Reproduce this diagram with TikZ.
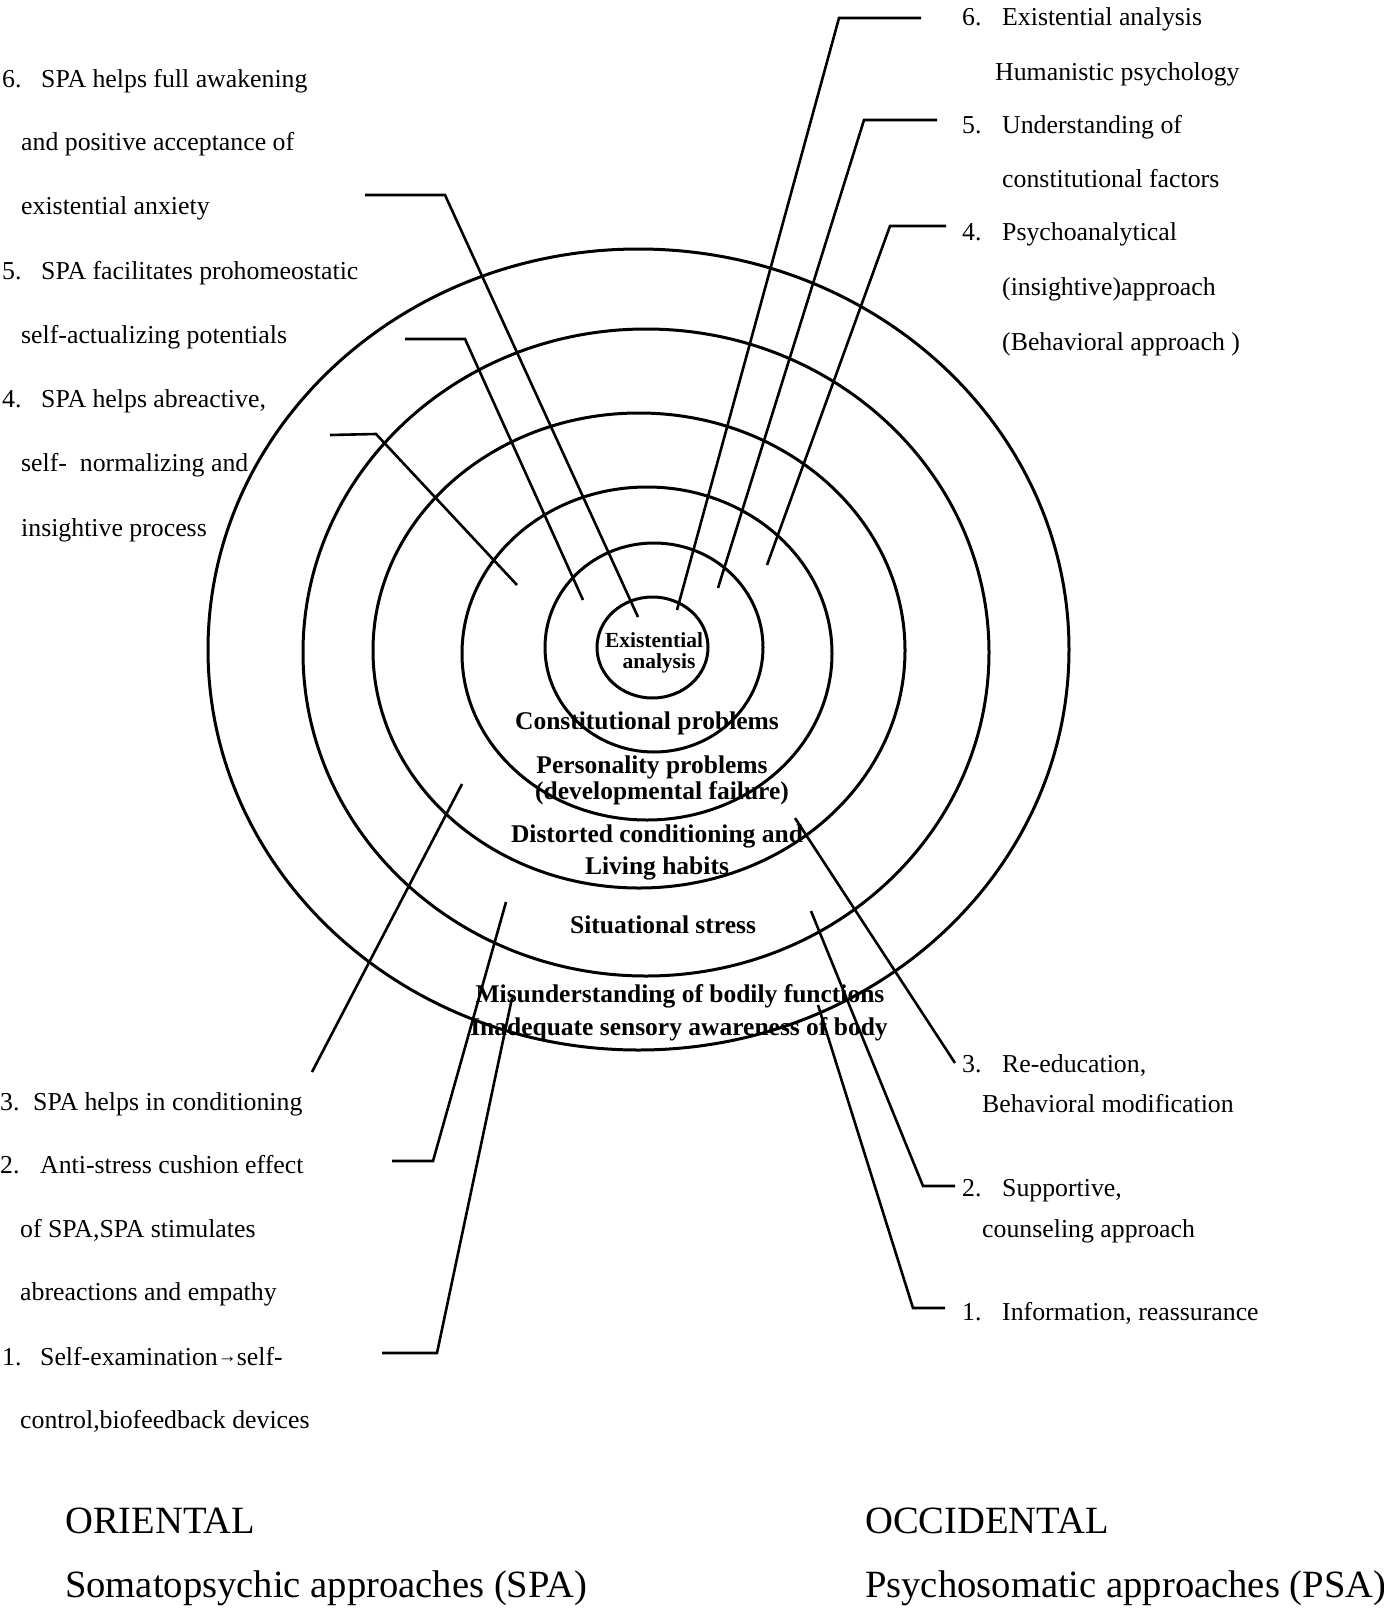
\documentclass[tikz,border=0pt]{standalone}
\usepackage{fontspec}
\setmainfont{Liberation Serif}
\begin{document}
\begin{tikzpicture}[x=1pt,y=-1pt,
  ring/.style={line width=3pt},
  leader/.style={line width=2.6pt},
  lbl/.style={inner sep=0pt,anchor=base west,font=\fontsize{25.8}{30}\selectfont},
  rlbl/.style={inner sep=0pt,anchor=base,font=\bfseries\fontsize{25.5}{30}\selectfont},
  slbl/.style={inner sep=0pt,anchor=base,font=\bfseries\fontsize{21.5}{26}\selectfont},
  ttl/.style={inner sep=0pt,anchor=base west,font=\fontsize{38.6}{44}\selectfont}]
\useasboundingbox (0,0) rectangle (1384,1609);

% concentric rings
\draw[ring] (638.5,649.5) ellipse [x radius=430.5pt, y radius=400.5pt];
\draw[ring] (646,652.5) ellipse [x radius=343pt, y radius=323.5pt];
\draw[ring] (639,650.5) ellipse [x radius=266pt, y radius=237.5pt];
\draw[ring] (647,653.5) ellipse [x radius=185pt, y radius=166.5pt];
\draw[ring] (654,647.5) ellipse [x radius=109pt, y radius=104.5pt];
\draw[ring] (652.5,647.5) ellipse [x radius=55.5pt, y radius=50.5pt];

% ring labels
\node[slbl] (ex1) at (654,647) {Existential};
\node[slbl] (ex2) at (659,668) {analysis};
\node[rlbl] (con) at (647,729) {Constitutional problems};
\node[rlbl] (per1) at (652,773) {Personality problems};
\node[rlbl] (per2) at (662,799) {(developmental failure)};
\node[rlbl] (dis1) at (657,842) {Distorted conditioning and};
\node[rlbl] (dis2) at (657,874) {Living habits};
\node[rlbl] (sit) at (663,933) {Situational stress};
\node[rlbl] (mis1) at (680,1002) {Misunderstanding of bodily functions};
\node[rlbl] (mis2) at (679,1035) {Inadequate sensory awareness of body};

% left (oriental) labels
\node[lbl] (a6a) at (2,87.5) {\makebox[39pt][l]{6.}SPA helps full awakening};
\node[lbl] (a6b) at (21,150) {and positive acceptance of};
\node[lbl] (a6c) at (21,214) {existential anxiety};
\node[lbl] (a5a) at (2,279) {\makebox[39pt][l]{5.}SPA facilitates prohomeostatic};
\node[lbl] (a5b) at (21,343) {self-actualizing potentials};
\node[lbl] (a4a) at (2,407) {\makebox[39pt][l]{4.}SPA helps abreactive,};
\node[lbl] (a4b) at (21,471) {self-\ \ normalizing and};
\node[lbl] (a4c) at (21,536) {insightive process};
\node[lbl] (a3a) at (0,1110) {\makebox[33pt][l]{3.}SPA helps in conditioning};
\node[lbl] (a2a) at (0,1173) {\makebox[40pt][l]{2.}Anti-stress cushion effect};
\node[lbl] (a2b) at (20,1237) {of SPA,SPA stimulates};
\node[lbl] (a2c) at (20,1300) {abreactions and empathy};
\node[lbl] (a1a) at (2,1365) {\makebox[38pt][l]{1.}Self-examination\raisebox{0.25ex}{\fontsize{19}{19}\selectfont→}self-};
\node[lbl] (a1b) at (20,1428) {control,biofeedback devices};

% right (occidental) labels
\node[lbl] (b6a) at (962,25) {\makebox[40pt][l]{6.}Existential analysis};
\node[lbl] (b6b) at (995,80) {Humanistic psychology};
\node[lbl] (b5a) at (962,133) {\makebox[40pt][l]{5.}Understanding of};
\node[lbl] (b5b) at (1002,187) {constitutional factors};
\node[lbl] (b4a) at (962,240) {\makebox[40pt][l]{4.}Psychoanalytical};
\node[lbl] (b4b) at (1002,295) {(insightive)approach};
\node[lbl] (b4c) at (1002,350) {(Behavioral approach )};
\node[lbl] (b3a) at (962,1072) {\makebox[40pt][l]{3.}Re-education,};
\node[lbl] (b3b) at (982,1112) {Behavioral modification};
\node[lbl] (b2a) at (962,1196) {\makebox[40pt][l]{2.}Supportive,};
\node[lbl] (b2b) at (982,1237) {counseling approach};
\node[lbl] (b1a) at (962,1320) {\makebox[40pt][l]{1.}Information, reassurance};

% titles
\node[ttl] (t1) at (65,1533) {ORIENTAL};
\node[ttl] (t2) at (65,1597) {Somatopsychic approaches (SPA)};
\node[ttl] (t3) at (865,1533) {OCCIDENTAL};
\node[ttl] (t4) at (865,1597) {Psychosomatic approaches (PSA)};

% leader line points
\coordinate (l6s) at (365,195);  \coordinate (l6k) at (445,195);  \coordinate (l6e) at (638,617);
\coordinate (l5s) at (405,339);  \coordinate (l5k) at (465,339);  \coordinate (l5e) at (583,600);
\coordinate (l4s) at (330,435);  \coordinate (l4k) at (376,434);  \coordinate (l4e) at (517,585);
\coordinate (l3s) at (312,1072); \coordinate (l3e) at (462,784);
\coordinate (l2s) at (392,1161); \coordinate (l2k) at (433,1161); \coordinate (l2e) at (506,902);
\coordinate (l1s) at (382,1353); \coordinate (l1k) at (437,1353); \coordinate (l1e) at (512,998);
\coordinate (r6s) at (921,18);   \coordinate (r6k) at (839,18);   \coordinate (r6e) at (677,610);
\coordinate (r5s) at (937,120);  \coordinate (r5k) at (864,120);  \coordinate (r5e) at (718,588);
\coordinate (r4s) at (946,226);  \coordinate (r4k) at (890,226);  \coordinate (r4e) at (767,565);
\coordinate (r3s) at (955,1063); \coordinate (r3e) at (795,818);
\coordinate (r2s) at (955,1186); \coordinate (r2k) at (923,1186); \coordinate (r2e) at (811,911);
\coordinate (r1s) at (945,1308); \coordinate (r1k) at (913,1308); \coordinate (r1e) at (818,1005);

\draw[leader] (l6s) -- (l6k) -- (l6e);
\draw[leader] (l5s) -- (l5k) -- (l5e);
\draw[leader] (l4s) -- (l4k) -- (l4e);
\draw[leader] (l3s) -- (l3e);
\draw[leader] (l2s) -- (l2k) -- (l2e);
\draw[leader] (l1s) -- (l1k) -- (l1e);
\draw[leader] (r6s) -- (r6k) -- (r6e);
\draw[leader] (r5s) -- (r5k) -- (r5e);
\draw[leader] (r4s) -- (r4k) -- (r4e);
\draw[leader] (r3s) -- (r3e);
\draw[leader] (r2s) -- (r2k) -- (r2e);
\draw[leader] (r1s) -- (r1k) -- (r1e);
\end{tikzpicture}
\end{document}
